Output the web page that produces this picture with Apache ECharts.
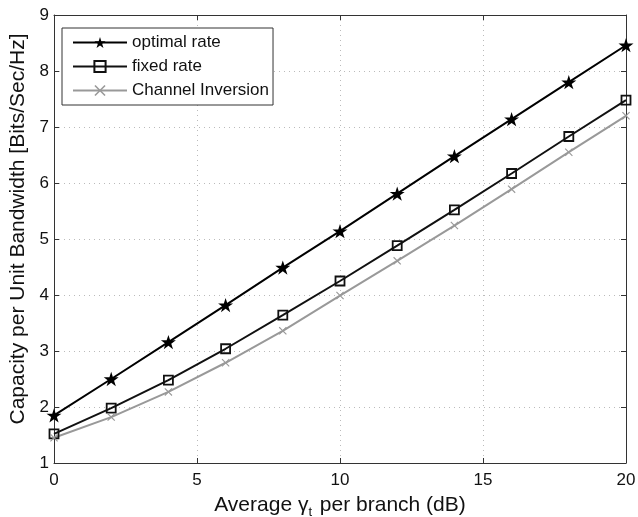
<!DOCTYPE html>
<html><head><meta charset="utf-8">
<script src="https://cdn.jsdelivr.net/npm/echarts@6/dist/echarts.min.js"></script>
<style>html,body{margin:0;padding:0;background:#fff}#c{width:638px;height:517px}</style>
</head><body><div id="c"></div>
<script>
const xValues = [0, 2, 4, 6, 8, 10, 12, 14, 16, 18, 20];
const optimalRate = [1.85, 2.50, 3.16, 3.82, 4.49, 5.14, 5.81, 6.48, 7.14, 7.80, 8.46];
const fixedRate = [1.52, 1.98, 2.48, 3.04, 3.64, 4.25, 4.88, 5.52, 6.17, 6.83, 7.48];
const channelInversion = [1.45, 1.82, 2.27, 2.79, 3.36, 3.99, 4.61, 5.24, 5.89, 6.55, 7.20];
const seriesNames = ['optimal rate', 'fixed rate', 'Channel Inversion'];

const pairs = arr => xValues.map((x, i) => [x, arr[i]]);
const STAR = 'path://M50,0L61.2,34.5L97.6,34.5L68.2,55.9L79.4,90.5L50,69.1L20.6,90.5L31.8,55.9L2.4,34.5L38.8,34.5Z';
const XMARK = 'path://M0,2L2,0L10,8L18,0L20,2L12,10L20,18L18,20L10,12L2,20L0,18L8,10Z';
const font = 'Liberation Sans, Arial, Helvetica, sans-serif';

const chart = echarts.init(document.getElementById('c'), null, {renderer: 'canvas'});
const axisCommon = {
  axisLine: {show: true, onZero: false, lineStyle: {color: '#333', width: 1}},
  axisTick: {show: true, inside: true, length: 5, lineStyle: {color: '#333'}},
};
chart.setOption({
  animation: false,
  backgroundColor: '#fff',
  grid: {left: 54, right: 12, top: 15, bottom: 54, containLabel: false, outerBoundsMode: 'none'},
  legend: {
    left: 62, top: 28, orient: 'vertical',
    data: seriesNames,
    itemWidth: 54, itemHeight: 14, itemGap: 7,
    padding: [6, 4, 6, 10],
    borderColor: '#333', borderWidth: 1, backgroundColor: '#fff',
    textStyle: {fontFamily: font, fontSize: 17, color: '#111'}
  },
  xAxis: [{
    type: 'value', min: 0, max: 20, interval: 5,
    ...axisCommon,
    axisLabel: {fontFamily: font, fontSize: 17, color: '#111', margin: 9},
    splitLine: {show: true, lineStyle: {color: '#bbb', type: [1, 4], width: 1}},
    name: '{a|Average γ}{s|t}{a| per branch (dB)}',
    nameLocation: 'middle', nameGap: 29,
    nameTextStyle: {rich: {
      a: {fontFamily: font, fontSize: 21, color: '#111'},
      s: {fontFamily: font, fontSize: 13, color: '#111', verticalAlign: 'bottom', padding: [14, 2, 0, 0]}
    }}
  }, {
    type: 'value', min: 0, max: 20, interval: 5, position: 'top',
    ...axisCommon, axisLabel: {show: false}, splitLine: {show: false}
  }],
  yAxis: [{
    type: 'value', min: 1, max: 9, interval: 1,
    ...axisCommon,
    axisLabel: {fontFamily: font, fontSize: 17, color: '#111', margin: 5},
    splitLine: {show: true, lineStyle: {color: '#bbb', type: [1, 4], width: 1}},
    name: 'Capacity per Unit Bandwidth [Bits/Sec/Hz]',
    nameLocation: 'middle', nameGap: 23, nameRotate: 90,
    nameTextStyle: {fontFamily: font, fontSize: 21, color: '#111', padding: [0, 0, 0, 20]}
  }, {
    type: 'value', min: 1, max: 9, interval: 1, position: 'right',
    ...axisCommon, axisLabel: {show: false}, splitLine: {show: false}
  }],
  series: [{
    name: seriesNames[0], type: 'line', data: pairs(optimalRate),
    symbol: STAR, symbolSize: 15, symbolKeepAspect: true,
    lineStyle: {color: '#000', width: 2},
    itemStyle: {color: '#000'}
  }, {
    name: seriesNames[1], type: 'line', data: pairs(fixedRate),
    symbol: 'rect', symbolSize: 9,
    lineStyle: {color: '#111', width: 2},
    itemStyle: {color: 'rgba(255,255,255,0)', borderColor: '#111', borderWidth: 1.8}
  }, {
    name: seriesNames[2], type: 'line', data: pairs(channelInversion),
    symbol: XMARK, symbolSize: 8,
    lineStyle: {color: '#999', width: 2},
    itemStyle: {color: '#999'}
  }]
});
</script></body></html>
